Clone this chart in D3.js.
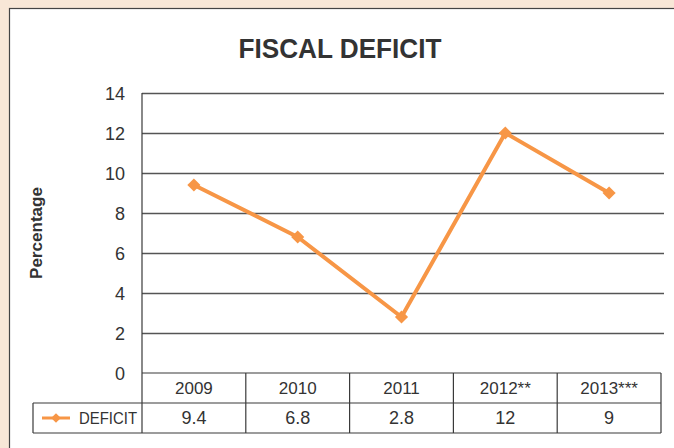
<!DOCTYPE html>
<html>
<head>
<meta charset="utf-8">
<script src="https://cdn.jsdelivr.net/npm/d3@7"></script>
<style>
  html, body { margin: 0; padding: 0; background: #f8e7d7; }
  svg { display: block; }
  text { font-family: "Liberation Sans", Arial, sans-serif; fill: #333; }
</style>
</head>
<body>
<svg id="chart" width="674" height="448"></svg>
<script>
// Fiscal deficit, percentage by year
const years = ["2009", "2010", "2011", "2012**", "2013***"];
const deficit = [9.4, 6.8, 2.8, 12, 9];
const yTicks = [0, 2, 4, 6, 8, 10, 12, 14];
const seriesName = "DEFICIT";

const W = 674, H = 448;
const plot = { left: 142, right: 661, top: 93, bottom: 373, gridRight: 664 };
const rowH = 30;
const legendLeft = 33;
const orange = "#f79646";
const ink = "#3a3a3a";

const svg = d3.select("#chart");

// white panel
svg.append("rect")
  .attr("x", 9.5).attr("y", 8.5)
  .attr("width", W + 10).attr("height", H + 10)
  .attr("fill", "#fff").attr("stroke", "#444").attr("stroke-width", 1.2);

const x = d3.scaleBand().domain(years).range([plot.left, plot.right]);
const y = d3.scaleLinear().domain([0, 14]).range([plot.bottom, plot.top]);

// title
svg.append("text")
  .attr("x", 340).attr("y", 58)
  .attr("text-anchor", "middle")
  .attr("font-size", 28).attr("font-weight", "bold")
  .attr("textLength", 203).attr("lengthAdjust", "spacingAndGlyphs")
  .style("fill", "#333")
  .text("FISCAL DEFICIT");

// y axis title
svg.append("text")
  .attr("transform", "translate(42,233) rotate(-90)")
  .attr("text-anchor", "middle")
  .attr("font-size", 17).attr("font-weight", "bold")
  .attr("textLength", 92).attr("lengthAdjust", "spacingAndGlyphs")
  .text("Percentage");

// gridlines
const grid = svg.append("g")
  .attr("transform", `translate(${plot.left},0)`)
  .call(d3.axisLeft(y).tickValues(yTicks.filter(v => v > 0))
    .tickSize(-(plot.gridRight - plot.left)).tickFormat(""));
grid.select(".domain").remove();
grid.selectAll(".tick line").attr("stroke", "#555").attr("stroke-width", 1.3);

// y axis labels
const yAxis = svg.append("g")
  .attr("transform", `translate(125,0)`)
  .call(d3.axisLeft(y).tickValues(yTicks).tickSize(0).tickPadding(0));
yAxis.select(".domain").remove();
yAxis.selectAll("text")
  .attr("font-size", 18).attr("dy", "0.36em")
  .style("font-family", "'Liberation Sans', Arial, sans-serif")
  .style("fill", "#333");

// y axis line, extending through the data table
svg.append("line")
  .attr("x1", plot.left).attr("x2", plot.left)
  .attr("y1", plot.top).attr("y2", plot.bottom + 2 * rowH)
  .attr("stroke", ink).attr("stroke-width", 1.2);

// data table grid
const table = svg.append("g").attr("stroke", ink).attr("stroke-width", 1.2).attr("fill", "none");
table.append("line")
  .attr("x1", plot.left).attr("x2", plot.right)
  .attr("y1", plot.bottom).attr("y2", plot.bottom);
table.append("line")
  .attr("x1", legendLeft).attr("x2", plot.right)
  .attr("y1", plot.bottom + rowH).attr("y2", plot.bottom + rowH);
table.append("line")
  .attr("x1", legendLeft).attr("x2", plot.right)
  .attr("y1", plot.bottom + 2 * rowH).attr("y2", plot.bottom + 2 * rowH);
table.append("line")
  .attr("x1", legendLeft).attr("x2", legendLeft)
  .attr("y1", plot.bottom + rowH).attr("y2", plot.bottom + 2 * rowH);
table.selectAll("line.col")
  .data(years)
  .enter().append("line")
  .attr("class", "col")
  .attr("x1", d => x(d) + x.bandwidth()).attr("x2", d => x(d) + x.bandwidth())
  .attr("y1", plot.bottom).attr("y2", plot.bottom + 2 * rowH);

// category labels (header row)
const xAxis = svg.append("g")
  .attr("transform", `translate(0,${plot.bottom})`)
  .call(d3.axisBottom(x).tickSize(0).tickPadding(0));
xAxis.select(".domain").remove();
xAxis.selectAll("text")
  .attr("y", rowH / 2).attr("dy", "0.36em")
  .attr("font-size", 17)
  .style("font-family", "'Liberation Sans', Arial, sans-serif")
  .style("fill", "#333");

// value row
svg.append("g").selectAll("text")
  .data(deficit)
  .enter().append("text")
  .attr("x", (d, i) => x(years[i]) + x.bandwidth() / 2)
  .attr("y", plot.bottom + rowH * 1.5)
  .attr("dy", "0.36em")
  .attr("text-anchor", "middle")
  .attr("font-size", 18)
  .text(d => d);

// legend key in the table
const diamond = d3.symbol().type(d3.symbolDiamond2);
const ly = plot.bottom + rowH * 1.5;
svg.append("line")
  .attr("x1", 42).attr("x2", 70).attr("y1", ly).attr("y2", ly)
  .attr("stroke", orange).attr("stroke-width", 3);
svg.append("path")
  .attr("d", diamond.size(60)())
  .attr("transform", `translate(56,${ly})`)
  .attr("fill", orange);
svg.append("text")
  .attr("x", 79).attr("y", ly).attr("dy", "0.36em")
  .attr("font-size", 17)
  .attr("textLength", 58).attr("lengthAdjust", "spacingAndGlyphs")
  .text(seriesName);

// series line and markers
const pts = deficit.map((v, i) => [x(years[i]) + x.bandwidth() / 2, y(v)]);
svg.append("path")
  .attr("d", d3.line()(pts))
  .attr("fill", "none")
  .attr("stroke", orange).attr("stroke-width", 4)
  .attr("stroke-linejoin", "round");
svg.append("g").selectAll("path")
  .data(pts)
  .enter().append("path")
  .attr("d", diamond.size(110)())
  .attr("transform", d => `translate(${d[0]},${d[1]})`)
  .attr("fill", orange);
</script>
</body>
</html>
